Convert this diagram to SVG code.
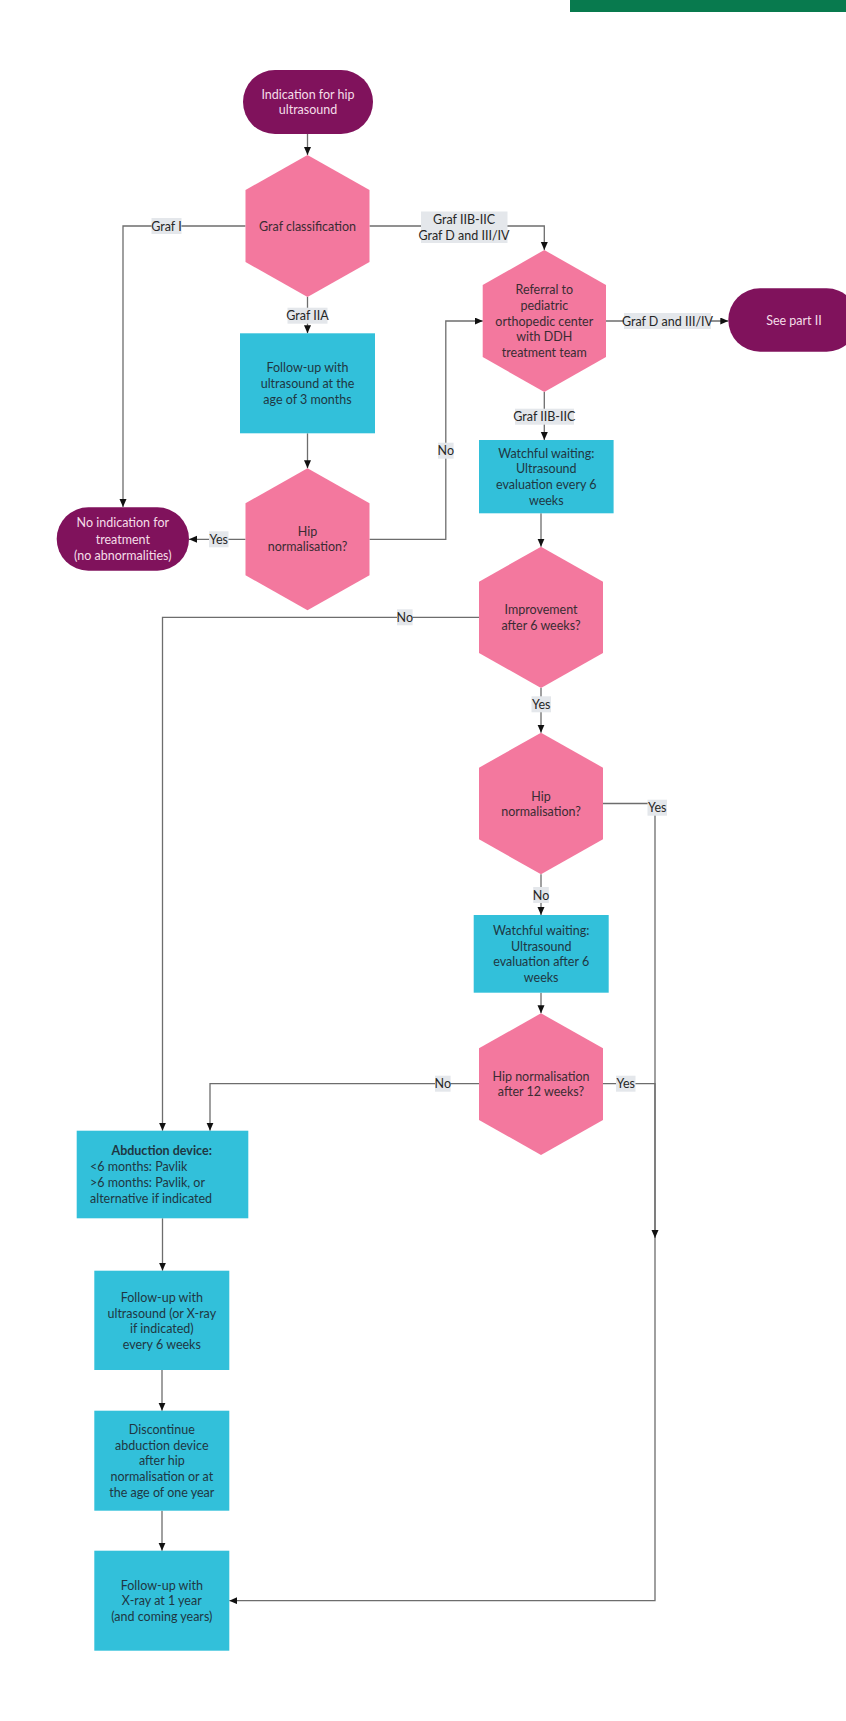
<svg xmlns="http://www.w3.org/2000/svg" width="846" height="1721" viewBox="0 0 846 1721">
<style>
  text { font-family: Lato, "Open Sans", "Liberation Sans", sans-serif; font-size: 12.5px; dominant-baseline: central; }
  .c { text-anchor: middle; }
  .term { fill: #80125c; }
  .term-t { fill: #f5dde8; }
  .hex { fill: #f3789e; }
  .hex-t { fill: #3a2c33; }
  .box { fill: #32c0da; }
  .box-t { fill: #1f3743; }
  .lbl { fill: #e4e7eb; }
  .lbl-t { fill: #262626; }
  .conn { fill: none; stroke: #6d6d6d; stroke-width: 1.3; }
  .arr { marker-end: url(#ah); }
  .b { font-weight: bold; }
</style>
<defs>
  <marker id="ah" markerUnits="userSpaceOnUse" markerWidth="9" markerHeight="8" refX="8" refY="3.5" orient="auto">
    <path d="M0,0 L8,3.5 L0,7 z" fill="#111"/>
  </marker>
</defs>

<rect x="570" y="0" width="276" height="12" fill="#087a4e"/>

<g id="connectors">
  <path class="conn arr" d="M307.5,134 V155"/>
  <path class="conn arr" d="M245.5,226 H123 V507"/>
  <path class="conn arr" d="M369.5,226 H544.3 V250"/>
  <path class="conn arr" d="M307.5,297 V333.3"/>
  <path class="conn arr" d="M307.5,433.3 V468.3"/>
  <path class="conn arr" d="M245.5,539.3 H189"/>
  <path class="conn arr" d="M369.5,539.3 H445.8 V321 H482.8"/>
  <path class="conn arr" d="M606,321 H728.3"/>
  <path class="conn arr" d="M544.3,392 V440"/>
  <path class="conn arr" d="M541,513.3 V546.7"/>
  <path class="conn arr" d="M479,617.3 H162.5 V1130.7"/>
  <path class="conn arr" d="M541,688 V732.7"/>
  <path class="conn arr" d="M603,803.5 H655 V1600.7 H229.3"/>
  <path class="conn arr" d="M541,874.3 V915"/>
  <path class="conn arr" d="M541,992.7 V1013.3"/>
  <path class="conn arr" d="M479,1083.7 H210 V1130.7"/>
  <path class="conn arr" d="M603,1083.7 H655 V1238"/>
  <path class="conn arr" d="M162.5,1218.3 V1270.7"/>
  <path class="conn arr" d="M162,1370 V1410.7"/>
  <path class="conn arr" d="M162,1510.7 V1550.7"/>

  <g id="labels">
    <rect class="lbl" x="151.5" y="218" width="30" height="16"/>
    <text class="c lbl-t" x="166.5" y="226">Graf I</text>
    <rect class="lbl" x="421" y="211.5" width="86.5" height="31.5"/>
    <text class="c lbl-t" x="464" y="219.3">Graf IIB-IIC</text>
    <text class="c lbl-t" x="464" y="235.7">Graf D and III/IV</text>
    <rect class="lbl" x="287.5" y="307.7" width="40" height="16"/>
    <text class="c lbl-t" x="307.5" y="315.7">Graf IIA</text>
    <rect class="lbl" x="209" y="531.3" width="19.5" height="16"/>
    <text class="c lbl-t" x="218.7" y="539.3">Yes</text>
    <rect class="lbl" x="438" y="442.7" width="15.6" height="16"/>
    <text class="c lbl-t" x="445.8" y="450.7">No</text>
    <rect class="lbl" x="624" y="313" width="87" height="16"/>
    <text class="c lbl-t" x="667.5" y="321">Graf D and III/IV</text>
    <rect class="lbl" x="515" y="408.7" width="59" height="16"/>
    <text class="c lbl-t" x="544.3" y="416.7">Graf IIB-IIC</text>
    <rect class="lbl" x="397" y="609.3" width="15.6" height="16"/>
    <text class="c lbl-t" x="404.8" y="617.3">No</text>
    <rect class="lbl" x="531.5" y="696.3" width="19.5" height="16"/>
    <text class="c lbl-t" x="541.2" y="704.3">Yes</text>
    <rect class="lbl" x="647.5" y="799.7" width="19.5" height="16"/>
    <text class="c lbl-t" x="657.2" y="807.7">Yes</text>
    <rect class="lbl" x="533.2" y="887" width="15.6" height="16"/>
    <text class="c lbl-t" x="541" y="895">No</text>
    <rect class="lbl" x="435" y="1075.7" width="15.6" height="16"/>
    <text class="c lbl-t" x="442.8" y="1083.7">No</text>
    <rect class="lbl" x="616" y="1075.7" width="19.5" height="16"/>
    <text class="c lbl-t" x="625.7" y="1083.7">Yes</text>
  </g>
</g>

<g id="start">
  <rect class="term" x="243" y="70" width="130" height="64" rx="32"/>
  <text class="c term-t" x="308" y="94">Indication for hip</text>
  <text class="c term-t" x="308" y="109.7">ultrasound</text>
</g>

<g id="graf-classification">
  <polygon class="hex" points="307.5,155 369.5,190 369.5,262 307.5,297 245.5,262 245.5,190"/>
  <text class="c hex-t" x="307.5" y="226">Graf classification</text>
</g>

<g id="followup-3months">
  <rect class="box" x="240" y="333.3" width="135" height="100"/>
  <text class="c box-t" x="307.5" y="367.7">Follow-up with</text>
  <text class="c box-t" x="307.5" y="383.3">ultrasound at the</text>
  <text class="c box-t" x="307.5" y="399">age of 3 months</text>
</g>

<g id="hip-normalisation-1">
  <polygon class="hex" points="307.5,468.3 369.5,503.3 369.5,575.3 307.5,610.3 245.5,575.3 245.5,503.3"/>
  <text class="c hex-t" x="307.5" y="531">Hip</text>
  <text class="c hex-t" x="307.5" y="546.7">normalisation?</text>
</g>

<g id="no-indication">
  <rect class="term" x="56.7" y="507.3" width="132.3" height="63.4" rx="31.7"/>
  <text class="c term-t" x="122.8" y="522.7">No indication for</text>
  <text class="c term-t" x="122.8" y="539.3">treatment</text>
  <text class="c term-t" x="122.8" y="555">(no abnormalities)</text>
</g>

<g id="referral">
  <polygon class="hex" points="544.3,250 606,285 606,357 544.3,392 482.7,357 482.7,285"/>
  <text class="c hex-t" x="544.3" y="289.4">Referral to</text>
  <text class="c hex-t" x="544.3" y="305.2">pediatric</text>
  <text class="c hex-t" x="544.3" y="321">orthopedic center</text>
  <text class="c hex-t" x="544.3" y="336.8">with DDH</text>
  <text class="c hex-t" x="544.3" y="352.6">treatment team</text>
</g>

<g id="see-part-2">
  <rect class="term" x="728.3" y="288.3" width="130" height="63.4" rx="31.7"/>
  <text class="c term-t" x="794" y="320.7">See part II</text>
</g>

<g id="watchful-1">
  <rect class="box" x="479" y="440" width="134.6" height="73.3"/>
  <text class="c box-t" x="546.3" y="453">Watchful waiting:</text>
  <text class="c box-t" x="546.3" y="468.7">Ultrasound</text>
  <text class="c box-t" x="546.3" y="484.8">evaluation every 6</text>
  <text class="c box-t" x="546.3" y="500.5">weeks</text>
</g>

<g id="improvement">
  <polygon class="hex" points="541,546.7 603,581.7 603,653 541,688 479,653 479,581.7"/>
  <text class="c hex-t" x="541" y="609">Improvement</text>
  <text class="c hex-t" x="541" y="625">after 6 weeks?</text>
</g>

<g id="hip-normalisation-2">
  <polygon class="hex" points="541,732.7 603,767.7 603,839.3 541,874.3 479,839.3 479,767.7"/>
  <text class="c hex-t" x="541" y="796">Hip</text>
  <text class="c hex-t" x="541" y="811.5">normalisation?</text>
</g>

<g id="watchful-2">
  <rect class="box" x="473.7" y="915" width="135" height="77.7"/>
  <text class="c box-t" x="541.2" y="930.7">Watchful waiting:</text>
  <text class="c box-t" x="541.2" y="946.2">Ultrasound</text>
  <text class="c box-t" x="541.2" y="961.7">evaluation after 6</text>
  <text class="c box-t" x="541.2" y="977.3">weeks</text>
</g>

<g id="hip-normalisation-12w">
  <polygon class="hex" points="541,1013.3 603,1048.3 603,1120 541,1155 479,1120 479,1048.3"/>
  <text class="c hex-t" x="541" y="1076.7">Hip normalisation</text>
  <text class="c hex-t" x="541" y="1091.9">after 12 weeks?</text>
</g>

<g id="abduction-device">
  <rect class="box" x="76.7" y="1130.7" width="171.6" height="87.6"/>
  <text class="c box-t b" x="161.7" y="1150">Abduction device:</text>
  <text class="box-t" x="90" y="1166.7">&lt;6 months: Pavlik</text>
  <text class="box-t" x="90" y="1182.3">&gt;6 months: Pavlik, or</text>
  <text class="box-t" x="90" y="1198">alternative if indicated</text>
</g>

<g id="followup-6weeks">
  <rect class="box" x="94.3" y="1270.7" width="135" height="99.3"/>
  <text class="c box-t" x="161.8" y="1297.3">Follow-up with</text>
  <text class="c box-t" x="161.8" y="1313">ultrasound (or X-ray</text>
  <text class="c box-t" x="161.8" y="1328.5">if indicated)</text>
  <text class="c box-t" x="161.8" y="1344">every 6 weeks</text>
</g>

<g id="discontinue">
  <rect class="box" x="94.3" y="1410.7" width="135" height="100"/>
  <text class="c box-t" x="161.8" y="1429">Discontinue</text>
  <text class="c box-t" x="161.8" y="1445">abduction device</text>
  <text class="c box-t" x="161.8" y="1460.5">after hip</text>
  <text class="c box-t" x="161.8" y="1476.2">normalisation or at</text>
  <text class="c box-t" x="161.8" y="1492.5">the age of one year</text>
</g>

<g id="followup-xray">
  <rect class="box" x="94.3" y="1550.7" width="135" height="100"/>
  <text class="c box-t" x="161.8" y="1585">Follow-up with</text>
  <text class="c box-t" x="161.8" y="1600.7">X-ray at 1 year</text>
  <text class="c box-t" x="161.8" y="1616.3">(and coming years)</text>
</g>
</svg>
